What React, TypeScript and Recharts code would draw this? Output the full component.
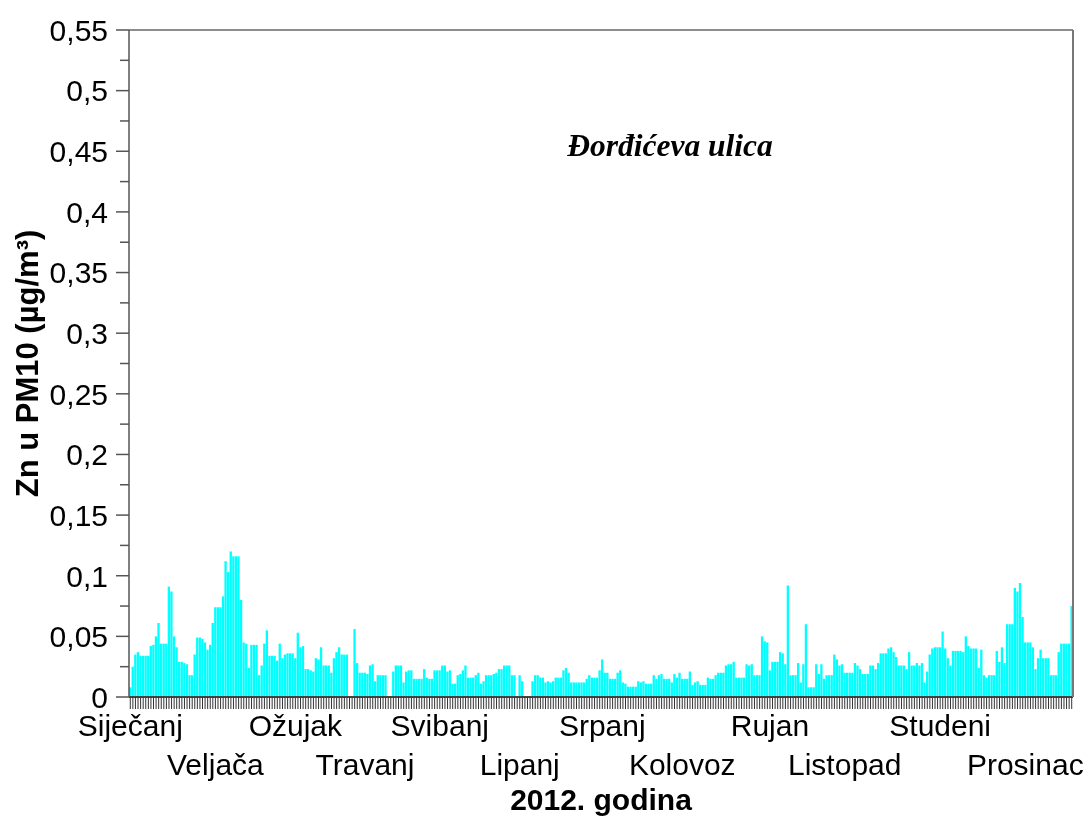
import React from "react";
import { BarChart, Bar, XAxis, YAxis, ReferenceLine, Label } from "recharts";

const FONT = "'Liberation Sans', Arial, sans-serif";

const monthNames = [
  "Siječanj", "Veljača", "Ožujak", "Travanj", "Svibanj", "Lipanj",
  "Srpanj", "Kolovoz", "Rujan", "Listopad", "Studeni", "Prosinac",
];
// day of the year (0 = 1 Jan) under which each month name is printed
const monthLabelDays = [0, 33, 64, 91, 120, 151, 183, 214, 248, 277, 314, 347];

// daily Zn in PM10 (µg/m³), 2012, null = no sample
const jan = [
  0.008, 0.025, 0.035, 0.037, 0.034, 0.034, 0.034, 0.034, 0.042, 0.043,
  0.05, 0.061, 0.044, 0.044, 0.044, 0.091, 0.087, 0.05, 0.041, 0.029,
  0.029, 0.028, 0.027, 0.018, 0.018, 0.035, 0.049, 0.049, 0.048, 0.045,
  0.039,
];
const feb = [
  0.043, 0.061, 0.074, 0.074, 0.074, 0.083, 0.112, 0.103, 0.12, 0.116,
  0.116, 0.116, 0.08, 0.045, 0.044, 0.024, 0.043, 0.043, 0.043, 0.018,
  0.026, 0.044, 0.055, 0.034, 0.034, 0.034, 0.03, 0.044, 0.032,
];
const mar = [
  0.035, 0.036, 0.036, 0.036, 0.032, 0.053, 0.041, 0.042, 0.023, 0.023,
  0.022, 0.021, 0.032, 0.031, 0.041, 0.026, 0.026, 0.026, 0.02, 0.032,
  0.037, 0.041, 0.035, 0.035, 0.035, null, null, 0.056, 0.028, 0.02,
  0.02,
];
const apr = [
  0.02, 0.019, 0.026, 0.027, 0.013, 0.018, 0.018, 0.018, 0.018, null,
  null, 0.021, 0.026, 0.026, 0.026, 0.012, 0.021, 0.022, 0.022, 0.015,
  0.015, 0.015, 0.015, 0.023, 0.016, 0.015, 0.015, 0.022, 0.022, 0.022,
];
const may = [
  0.026, 0.026, 0.021, 0.022, 0.011, 0.011, 0.018, 0.019, 0.022, 0.026,
  0.016, 0.016, 0.016, 0.018, 0.02, 0.011, 0.013, 0.018, 0.018, 0.018,
  0.019, 0.02, 0.023, 0.023, 0.026, 0.026, 0.026, 0.018, 0.018, null,
  0.018,
];
const jun = [
  0.013, null, null, null, 0.013, 0.018, 0.018, 0.016, 0.016, 0.012,
  0.013, 0.012, 0.013, 0.016, 0.016, 0.016, 0.022, 0.024, 0.02, 0.012,
  0.012, 0.012, 0.012, 0.012, 0.012, 0.015, 0.018, 0.016, 0.016, 0.016,
];
const jul = [
  0.022, 0.031, 0.02, 0.02, 0.015, 0.015, 0.015, 0.02, 0.022, 0.012,
  0.011, 0.0085, 0.0085, 0.0085, 0.0085, 0.013, 0.012, 0.013, 0.011, 0.011,
  0.011, 0.018, 0.015, 0.018, 0.019, 0.015, 0.015, 0.015, 0.012, 0.019,
  0.016,
];
const aug = [
  0.02, 0.015, 0.015, 0.015, 0.021, 0.01, 0.012, 0.013, 0.01, 0.01,
  0.01, 0.016, 0.015, 0.015, 0.018, 0.02, 0.02, 0.02, 0.026, 0.027,
  0.027, 0.029, 0.016, 0.016, 0.016, 0.016, 0.027, 0.026, 0.027, 0.018,
  0.018,
];
const sep = [
  0.018, 0.05, 0.046, 0.045, 0.022, 0.029, 0.029, 0.029, 0.037, 0.036,
  0.027, 0.092, 0.018, 0.018, 0.018, 0.028, 0.012, 0.027, 0.06, 0.008,
  0.008, 0.008, 0.027, 0.019, 0.027, 0.015, 0.018, 0.018, 0.018, 0.035,
];
const oct = [
  0.031, 0.026, 0.027, 0.02, 0.02, 0.02, 0.02, 0.028, 0.026, 0.023,
  0.019, 0.019, 0.019, 0.026, 0.026, 0.023, 0.028, 0.036, 0.036, 0.036,
  0.04, 0.041, 0.037, 0.033, 0.026, 0.026, 0.026, 0.023, 0.037, 0.026,
  0.026,
];
const nov = [
  0.028, 0.026, 0.028, 0.012, 0.021, 0.035, 0.04, 0.041, 0.041, 0.041,
  0.054, 0.04, 0.032, 0.026, 0.038, 0.038, 0.038, 0.038, 0.037, 0.05,
  0.042, 0.04, 0.04, 0.04, 0.024, 0.039, 0.018, 0.016, 0.018, 0.018,
];
const dec = [
  0.018, 0.038, 0.029, 0.041, 0.028, 0.06, 0.06, 0.06, 0.09, 0.087,
  0.094, 0.066, 0.045, 0.045, 0.045, 0.041, 0.023, 0.032, 0.039, 0.032,
  0.032, 0.032, 0.018, 0.018, 0.018, 0.037, 0.044, 0.044, 0.044, 0.044,
  0.075,
];

const yTicks = [
  0, 0.025, 0.05, 0.075, 0.1, 0.125, 0.15, 0.175, 0.2, 0.225, 0.25, 0.275,
  0.3, 0.325, 0.35, 0.375, 0.4, 0.425, 0.45, 0.475, 0.5, 0.525, 0.55,
];

const data = [...jan, ...feb, ...mar, ...apr, ...may, ...jun, ...jul, ...aug, ...sep, ...oct, ...nov, ...dec].map(
  (zn, day) => ({ day, zn })
);

function MonthTick(props: any) {
  const { x, y, payload } = props;
  const m = monthLabelDays.indexOf(payload.value);
  if (m < 0) return <g />;
  return (
    <text x={x} y={y + (m % 2 === 0 ? 27 : 66)} textAnchor="middle" fontSize={30} fontFamily={FONT} fill="#000">
      {monthNames[m]}
    </text>
  );
}

function ValueTick(props: any) {
  const { x, y, payload } = props;
  const v = payload.value;
  const major = Math.round(v * 1000) % 50 === 0;
  const axisX = x + 21;
  return (
    <g>
      <line x1={axisX - (major ? 13 : 9)} x2={axisX} y1={y} y2={y} stroke="#555" strokeWidth={1.5} />
      {major && (
        <text x={x} y={y} dy="0.36em" textAnchor="end" fontSize={30} fontFamily={FONT} fill="#000">
          {String(v).replace(".", ",")}
        </text>
      )}
    </g>
  );
}

export default function App() {
  // fixed so the 808px-tall chart plus body margin never makes the page scroll
  return (
    <div style={{ position: "fixed", left: 8, top: 8, width: 1079, height: 808 }}>
      <BarChart
        width={1079}
        height={808}
        data={data}
        margin={{ top: 22, right: 13, bottom: 0, left: 0 }}
        barCategoryGap={0}
        barGap={0}
      >
        <XAxis
          dataKey="day"
          interval={0}
          height={119}
          tickSize={12}
          tickMargin={0}
          tickLine={{ stroke: "#333" }}
          axisLine={{ stroke: "#444", strokeWidth: 2 }}
          tick={<MonthTick />}
        >
          <Label
            content={(p: any) => {
              const vb = p.viewBox;
              return (
                <text x={vb.x + vb.width / 2} y={vb.y + 113} textAnchor="middle" fontSize={30} fontWeight="bold" fontFamily={FONT}>
                  2012. godina
                </text>
              );
            }}
          />
        </XAxis>
        <YAxis
          domain={[0, 0.55]}
          ticks={yTicks}
          interval={0}
          width={121}
          tickSize={13}
          tickMargin={8}
          tickLine={false}
          axisLine={{ stroke: "#555", strokeWidth: 1.5 }}
          tick={<ValueTick />}
        >
          <Label
            content={(p: any) => {
              const vb = p.viewBox;
              const cx = vb.x + 30;
              const cy = vb.y + vb.height / 2;
              return (
                <text x={cx} y={cy} transform={`rotate(-90 ${cx} ${cy})`} textAnchor="middle" fontSize={31} fontWeight="bold" fontFamily={FONT}>
                  Zn u PM10 (µg/m³)
                </text>
              );
            }}
          />
        </YAxis>
        <YAxis
          yAxisId="r"
          orientation="right"
          width={1}
          domain={[0, 0.55]}
          tick={false}
          tickLine={false}
          axisLine={{ stroke: "#777", strokeWidth: 2 }}
        />
        <ReferenceLine y={0.55} stroke="#666" strokeWidth={1.5} />
        <Bar dataKey="zn" fill="#00FFFF" barSize={2.58} isAnimationActive={false} />
      </BarChart>
      <svg width={1079} height={808} style={{ position: "absolute", left: 0, top: 0, pointerEvents: "none" }}>
        <text
          x={662}
          y={148}
          textAnchor="middle"
          fontSize={31.5}
          fontWeight="bold"
          fontStyle="italic"
          fontFamily="'Liberation Serif', 'Times New Roman', serif"
          fill="#000"
        >
          Đorđićeva ulica
        </text>
      </svg>
    </div>
  );
}
